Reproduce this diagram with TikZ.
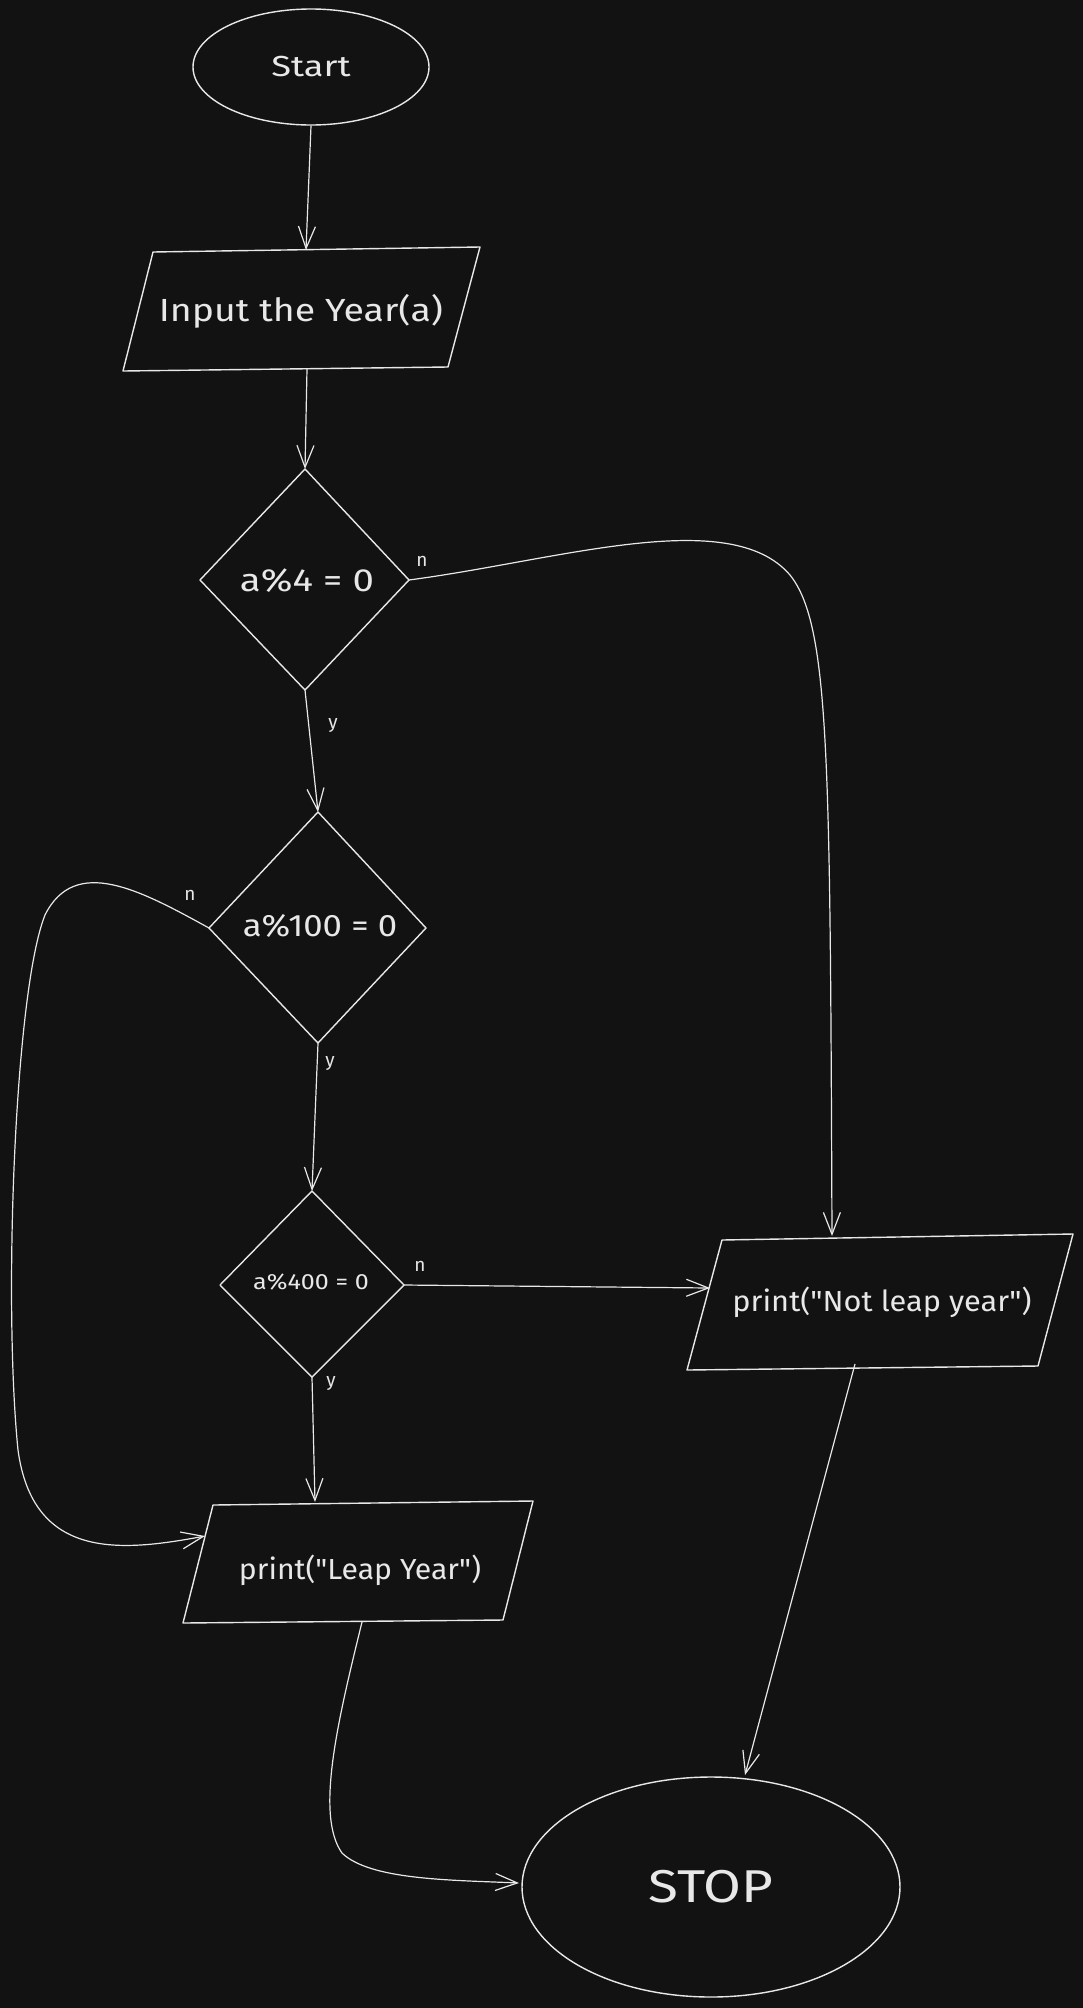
\documentclass[tikz,border=0pt]{standalone}
\usepackage{fontspec}
\setmainfont[Ligatures=TeXOff]{Fira Sans}
\usetikzlibrary{arrows.meta,shapes.geometric}
\definecolor{bg}{HTML}{121212}
\definecolor{ink}{HTML}{E8E8E8}
\newcommand{\qq}{\symbol{34}}
\begin{document}
\begin{tikzpicture}[x=1pt,y=-1pt,
  outline/.style={draw=ink, line width=1.4pt, line join=round},
  conn/.style={draw=ink, line width=1.2pt, -{Straight Barb[length=22pt,width=17pt,line width=1.2pt]}},
  txt/.style={text=ink, font=\fontsize{29}{33}\selectfont, inner sep=0pt},
  lbl/.style={text=ink, font=\fontsize{19}{21}\selectfont, inner sep=0pt}]
\fill[bg] (0,0) rectangle (1083,2008);
\useasboundingbox (0,0) rectangle (1083,2008);

% Start / Stop
\node[ellipse, outline, minimum width=236pt, minimum height=116pt, inner sep=0pt, txt, font=\fontsize{29}{33}\selectfont] (start) at (311,67) {\scalebox{1.25}[1]{Start}};
\node[ellipse, outline, minimum width=378pt, minimum height=220pt, inner sep=0pt, txt, font=\fontsize{46}{52}\selectfont] (stop) at (711,1887) {\scalebox{1.19}[1]{STOP}};

% Input parallelogram
\coordinate (in1) at (153,252); \coordinate (in2) at (480,247);
\coordinate (in3) at (448,367); \coordinate (in4) at (123,371);
\draw[outline] (in1) -- (in2) -- (in3) -- (in4) -- cycle;
\node[txt, font=\fontsize{32}{36}\selectfont] (input) at (301,311) {\scalebox{1.17}[1]{Input the Year(a)}};
\coordinate (inT) at (306,250); \coordinate (inB) at (307,369);

% Diamond 1
\coordinate (d1t) at (305,469); \coordinate (d1l) at (200,580);
\coordinate (d1r) at (409,580); \coordinate (d1b) at (305,690);
\draw[outline] (d1t) -- (d1r) -- (d1b) -- (d1l) -- cycle;
\node[txt, font=\fontsize{32}{36}\selectfont] (q1) at (307,581) {\scalebox{1.2}[1]{a\%4 = 0}};

% Diamond 2
\coordinate (d2t) at (318,812); \coordinate (d2l) at (209,928);
\coordinate (d2r) at (426,928); \coordinate (d2b) at (318,1043);
\draw[outline] (d2t) -- (d2r) -- (d2b) -- (d2l) -- cycle;
\node[txt, font=\fontsize{31}{35}\selectfont] (q2) at (320,926) {\scalebox{1.12}[1]{a\%100 = 0}};

% Diamond 3
\coordinate (d3t) at (312,1191); \coordinate (d3l) at (220,1285);
\coordinate (d3r) at (404,1285); \coordinate (d3b) at (312,1377);
\draw[outline] (d3t) -- (d3r) -- (d3b) -- (d3l) -- cycle;
\node[txt, font=\fontsize{22}{25}\selectfont] (q3) at (311,1282) {\scalebox{1.14}[1]{a\%400 = 0}};

% Not leap year parallelogram
\coordinate (nl1) at (722,1240); \coordinate (nl2) at (1073,1234);
\coordinate (nl3) at (1038,1366); \coordinate (nl4) at (687,1370);
\draw[outline] (nl1) -- (nl2) -- (nl3) -- (nl4) -- cycle;
\node[txt] (notleap) at (882,1302) {\scalebox{1.06}[1]{print(\qq Not leap year\qq)}};
\coordinate (nlT) at (832,1236); \coordinate (nlL) at (710,1288); \coordinate (nlB) at (855,1364);

% Leap year parallelogram
\coordinate (l1) at (213,1505); \coordinate (l2) at (533,1501);
\coordinate (l3) at (503,1620); \coordinate (l4) at (183,1623);
\draw[outline] (l1) -- (l2) -- (l3) -- (l4) -- cycle;
\node[txt] (leap) at (360,1570) {\scalebox{1.04}[1]{print(\qq Leap Year\qq)}};
\coordinate (lT) at (315,1502); \coordinate (lL) at (205,1536); \coordinate (lB) at (362,1622);

% STOP targets
\coordinate (stT) at (745,1775); \coordinate (stL) at (519,1883);

% Connectors
\draw[conn] (start.south) -- (inT);
\draw[conn] (inB) -- (d1t);
\draw[conn] (d1b) -- (d2t);
\draw[conn] (d2b) -- (d3t);
\draw[conn] (d3b) -- (lT);
\draw[conn] (d3r) -- (nlL);
\draw[conn] (d1r) .. controls (560,560) and (730,505) .. (790,575)
                  .. controls (830,625) and (830,760) .. (nlT);
\draw[conn] (d2l) .. controls (140,890) and (75,855) .. (45,915)
                  .. controls (15,990) and (3,1300) .. (18,1450)
                  .. controls (33,1560) and (120,1552) .. (lL);
\draw[conn] (nlB) -- (stT);
\draw[conn] (lB) .. controls (338,1720) and (315,1815) .. (342,1853)
                 .. controls (370,1880) and (450,1880) .. (stL);

% Branch labels
\node[lbl] (n1) at (422,561) {n};
\node[lbl] (y1) at (333,726) {y};
\node[lbl] (n2) at (190,895) {n};
\node[lbl] (y2) at (330,1064) {y};
\node[lbl] (n3) at (420,1266) {n};
\node[lbl] (y3) at (331,1383) {y};
\end{tikzpicture}
\end{document}
